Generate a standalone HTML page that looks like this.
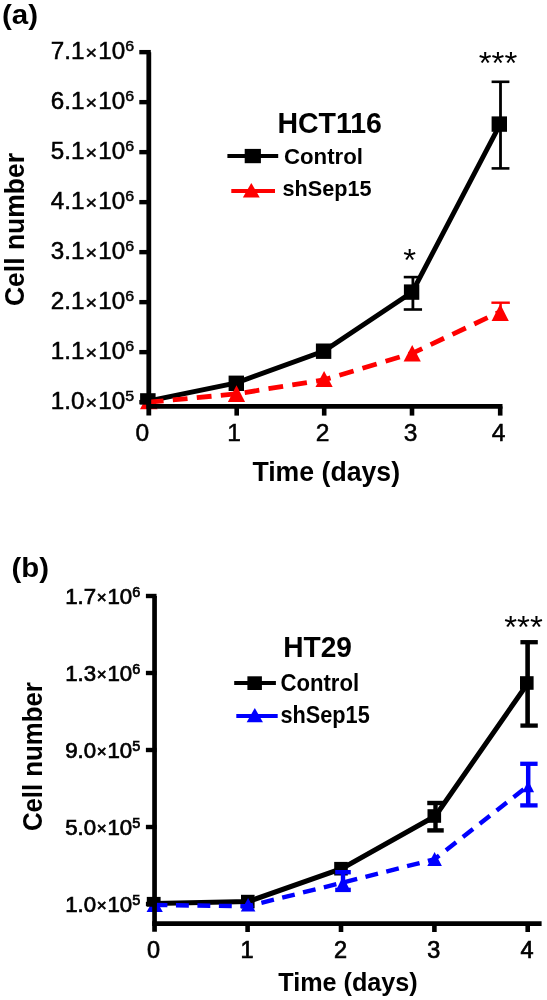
<!DOCTYPE html>
<html><head><meta charset="utf-8"><title>Cell number figure</title>
<style>
html,body{margin:0;padding:0;background:#fff;}
body{width:547px;height:1000px;overflow:hidden;}
svg{display:block;font-family:"Liberation Sans", Arial, Helvetica, sans-serif;}
</style></head>
<body>
<svg width="547" height="1000" viewBox="0 0 547 1000">
<rect width="547" height="1000" fill="#fff"/>
<text transform="translate(2.0,24.4) scale(1.055,1.0)" font-size="28" font-weight="bold" text-anchor="start" fill="#000" >(a)</text>
<text transform="translate(134.1,59.449999999999996) scale(1.045,1.0)" font-size="23.2" font-weight="normal" text-anchor="end" fill="#000" stroke="#000" stroke-width="0.5">7.1<tspan font-size="19" dx="1" dy="-0.6">×</tspan><tspan dx="1" dy="0.6">10</tspan><tspan font-size="15.3" dy="-8.2">6</tspan></text>
<text transform="translate(134.1,109.45) scale(1.045,1.0)" font-size="23.2" font-weight="normal" text-anchor="end" fill="#000" stroke="#000" stroke-width="0.5">6.1<tspan font-size="19" dx="1" dy="-0.6">×</tspan><tspan dx="1" dy="0.6">10</tspan><tspan font-size="15.3" dy="-8.2">6</tspan></text>
<text transform="translate(134.1,159.45000000000002) scale(1.045,1.0)" font-size="23.2" font-weight="normal" text-anchor="end" fill="#000" stroke="#000" stroke-width="0.5">5.1<tspan font-size="19" dx="1" dy="-0.6">×</tspan><tspan dx="1" dy="0.6">10</tspan><tspan font-size="15.3" dy="-8.2">6</tspan></text>
<text transform="translate(134.1,209.45000000000002) scale(1.045,1.0)" font-size="23.2" font-weight="normal" text-anchor="end" fill="#000" stroke="#000" stroke-width="0.5">4.1<tspan font-size="19" dx="1" dy="-0.6">×</tspan><tspan dx="1" dy="0.6">10</tspan><tspan font-size="15.3" dy="-8.2">6</tspan></text>
<text transform="translate(134.1,259.45) scale(1.045,1.0)" font-size="23.2" font-weight="normal" text-anchor="end" fill="#000" stroke="#000" stroke-width="0.5">3.1<tspan font-size="19" dx="1" dy="-0.6">×</tspan><tspan dx="1" dy="0.6">10</tspan><tspan font-size="15.3" dy="-8.2">6</tspan></text>
<text transform="translate(134.1,309.45) scale(1.045,1.0)" font-size="23.2" font-weight="normal" text-anchor="end" fill="#000" stroke="#000" stroke-width="0.5">2.1<tspan font-size="19" dx="1" dy="-0.6">×</tspan><tspan dx="1" dy="0.6">10</tspan><tspan font-size="15.3" dy="-8.2">6</tspan></text>
<text transform="translate(134.1,359.45) scale(1.045,1.0)" font-size="23.2" font-weight="normal" text-anchor="end" fill="#000" stroke="#000" stroke-width="0.5">1.1<tspan font-size="19" dx="1" dy="-0.6">×</tspan><tspan dx="1" dy="0.6">10</tspan><tspan font-size="15.3" dy="-8.2">6</tspan></text>
<text transform="translate(134.1,409.45) scale(1.045,1.0)" font-size="23.2" font-weight="normal" text-anchor="end" fill="#000" stroke="#000" stroke-width="0.5">1.0<tspan font-size="19" dx="1" dy="-0.6">×</tspan><tspan dx="1" dy="0.6">10</tspan><tspan font-size="15.3" dy="-8.2">5</tspan></text>
<text transform="translate(142.3,441) scale(1.06,1.0)" font-size="23.2" font-weight="normal" text-anchor="middle" fill="#000" stroke="#000" stroke-width="0.5">0</text>
<text transform="translate(234.2,441) scale(1.06,1.0)" font-size="23.2" font-weight="normal" text-anchor="middle" fill="#000" stroke="#000" stroke-width="0.5">1</text>
<text transform="translate(322.7,441) scale(1.06,1.0)" font-size="23.2" font-weight="normal" text-anchor="middle" fill="#000" stroke="#000" stroke-width="0.5">2</text>
<text transform="translate(410.5,441) scale(1.06,1.0)" font-size="23.2" font-weight="normal" text-anchor="middle" fill="#000" stroke="#000" stroke-width="0.5">3</text>
<text transform="translate(498.7,441) scale(1.06,1.0)" font-size="23.2" font-weight="normal" text-anchor="middle" fill="#000" stroke="#000" stroke-width="0.5">4</text>
<text transform="translate(252.4,480.5) scale(0.995,1.0)" font-size="26.8" font-weight="bold" text-anchor="start" fill="#000" >Time (days)</text>
<text transform="translate(23.9,306) rotate(-90) scale(0.936,1.0)" font-size="28.3" font-weight="bold" text-anchor="start" fill="#000" >Cell number</text>
<text transform="translate(277.4,132.9) scale(0.983,1.0)" font-size="29" font-weight="bold" text-anchor="start" fill="#000" >HCT116</text>
<line x1="227.4" y1="156" x2="278.2" y2="156" stroke="#000" stroke-width="3.8" />
<rect x="244.7" y="148.9" width="16.2" height="14.3" fill="#000"/>
<text transform="translate(283.9,164) scale(0.985,1.0)" font-size="22.6" font-weight="bold" text-anchor="start" fill="#000" >Control</text>
<line x1="231.3" y1="191" x2="275" y2="191" stroke="#fe0000" stroke-width="3.8" />
<polygon points="251.3,182.9 242.85000000000002,197.6 259.75,197.6" fill="#fe0000"/>
<text transform="translate(282.5,195.6) scale(0.95,1.0)" font-size="22.8" font-weight="bold" text-anchor="start" fill="#000" >shSep15</text>
<polygon points="148.8,392.8 140.0,409.3 157.60000000000002,409.3" fill="#fe0000"/>
<line x1="412.9" y1="277.1" x2="412.9" y2="309.5" stroke="#000" stroke-width="2.8" />
<line x1="403.75" y1="277.1" x2="422.04999999999995" y2="277.1" stroke="#000" stroke-width="2.6" />
<line x1="403.75" y1="309.5" x2="422.04999999999995" y2="309.5" stroke="#000" stroke-width="2.6" />
<line x1="500.5" y1="81.8" x2="500.5" y2="168.4" stroke="#000" stroke-width="2.8" />
<line x1="491.6" y1="81.8" x2="509.4" y2="81.8" stroke="#000" stroke-width="2.6" />
<line x1="491.6" y1="168.4" x2="509.4" y2="168.4" stroke="#000" stroke-width="2.6" />
<polyline points="149,400.8 236.5,382.8 324,351 412.3,292 500.2,124.1" fill="none" stroke="#000" stroke-width="4.9" stroke-linejoin="miter" />
<rect x="228.60000000000002" y="375.6" width="15.4" height="15.4" fill="#000"/>
<rect x="315.90000000000003" y="343.5" width="15.4" height="15.4" fill="#000"/>
<rect x="403.90000000000003" y="284.40000000000003" width="15.4" height="15.4" fill="#000"/>
<rect x="491.6" y="116.39999999999999" width="15.4" height="15.4" fill="#000"/>
<rect x="140.1" y="393.2" width="15.5" height="11.3" fill="#000"/>
<polyline points="148.8,402.2 236.4,393.9 324.1,379.8 412.2,353.3 500.5,311.6" fill="none" stroke="#fe0000" stroke-width="4.8" stroke-linejoin="miter" stroke-dasharray="14.8 9.3"/>
<line x1="500.6" y1="302.7" x2="500.6" y2="320" stroke="#fe0000" stroke-width="2.4" />
<line x1="491.4" y1="302.7" x2="509.8" y2="302.7" stroke="#fe0000" stroke-width="2.4" />
<polygon points="236.5,385.2 227.9,402.1 245.1,402.1" fill="#fe0000"/>
<polygon points="324.1,371 315.5,387 332.70000000000005,387" fill="#fe0000"/>
<polygon points="412.2,345.1 403.59999999999997,361.6 420.8,361.6" fill="#fe0000"/>
<polygon points="500.2,304 491.59999999999997,321 508.8,321" fill="#fe0000"/>
<line x1="148.8" y1="52.15" x2="148.8" y2="415.6" stroke="#000" stroke-width="4.8" />
<line x1="139.3" y1="52.15" x2="150.8" y2="52.15" stroke="#000" stroke-width="4.4" />
<line x1="139.3" y1="102.15" x2="150.8" y2="102.15" stroke="#000" stroke-width="4.4" />
<line x1="139.3" y1="152.15" x2="150.8" y2="152.15" stroke="#000" stroke-width="4.4" />
<line x1="139.3" y1="202.15" x2="150.8" y2="202.15" stroke="#000" stroke-width="4.4" />
<line x1="139.3" y1="252.15" x2="150.8" y2="252.15" stroke="#000" stroke-width="4.4" />
<line x1="139.3" y1="302.15" x2="150.8" y2="302.15" stroke="#000" stroke-width="4.4" />
<line x1="139.3" y1="352.15" x2="150.8" y2="352.15" stroke="#000" stroke-width="4.4" />
<line x1="139.3" y1="402.15" x2="150.8" y2="402.15" stroke="#000" stroke-width="4.4" />
<line x1="146.4" y1="406.4" x2="502.5" y2="406.4" stroke="#000" stroke-width="4.8" />
<line x1="236.7" y1="406.4" x2="236.7" y2="415.6" stroke="#000" stroke-width="4.6" />
<line x1="324.2" y1="406.4" x2="324.2" y2="415.6" stroke="#000" stroke-width="4.6" />
<line x1="412" y1="406.4" x2="412" y2="415.6" stroke="#000" stroke-width="4.6" />
<line x1="500.2" y1="406.4" x2="500.2" y2="415.6" stroke="#000" stroke-width="4.6" />
<text transform="translate(409.6,271) scale(1.03,1.0)" font-size="32" font-weight="normal" text-anchor="middle" fill="#000" >*</text>
<text transform="translate(498,73.6) scale(1.03,1.0)" font-size="32" font-weight="normal" text-anchor="middle" fill="#000" >***</text>
<text transform="translate(11.5,577.4) scale(1.05,1.0)" font-size="28" font-weight="bold" text-anchor="start" fill="#000" >(b)</text>
<text transform="translate(140.2,603.9) scale(1.03,1.0)" font-size="21.6" font-weight="normal" text-anchor="end" fill="#000" stroke="#000" stroke-width="0.7">1.7<tspan font-size="16.5" dx="0.7" dy="-0.9">×</tspan><tspan dx="0.7" dy="0.9">10</tspan><tspan font-size="14" dy="-7.4">6</tspan></text>
<text transform="translate(140.2,680.9) scale(1.03,1.0)" font-size="21.6" font-weight="normal" text-anchor="end" fill="#000" stroke="#000" stroke-width="0.7">1.3<tspan font-size="16.5" dx="0.7" dy="-0.9">×</tspan><tspan dx="0.7" dy="0.9">10</tspan><tspan font-size="14" dy="-7.4">6</tspan></text>
<text transform="translate(140.2,757.9) scale(1.03,1.0)" font-size="21.6" font-weight="normal" text-anchor="end" fill="#000" stroke="#000" stroke-width="0.7">9.0<tspan font-size="16.5" dx="0.7" dy="-0.9">×</tspan><tspan dx="0.7" dy="0.9">10</tspan><tspan font-size="14" dy="-7.4">5</tspan></text>
<text transform="translate(140.2,834.9) scale(1.03,1.0)" font-size="21.6" font-weight="normal" text-anchor="end" fill="#000" stroke="#000" stroke-width="0.7">5.0<tspan font-size="16.5" dx="0.7" dy="-0.9">×</tspan><tspan dx="0.7" dy="0.9">10</tspan><tspan font-size="14" dy="-7.4">5</tspan></text>
<text transform="translate(140.2,911.9) scale(1.03,1.0)" font-size="21.6" font-weight="normal" text-anchor="end" fill="#000" stroke="#000" stroke-width="0.7">1.0<tspan font-size="16.5" dx="0.7" dy="-0.9">×</tspan><tspan dx="0.7" dy="0.9">10</tspan><tspan font-size="14" dy="-7.4">5</tspan></text>
<text transform="translate(153.6,957.8) scale(1.02,1.0)" font-size="23" font-weight="normal" text-anchor="middle" fill="#000" stroke="#000" stroke-width="0.7">0</text>
<text transform="translate(247.0,957.8) scale(1.02,1.0)" font-size="23" font-weight="normal" text-anchor="middle" fill="#000" stroke="#000" stroke-width="0.7">1</text>
<text transform="translate(340.4,957.8) scale(1.02,1.0)" font-size="23" font-weight="normal" text-anchor="middle" fill="#000" stroke="#000" stroke-width="0.7">2</text>
<text transform="translate(433.79999999999995,957.8) scale(1.02,1.0)" font-size="23" font-weight="normal" text-anchor="middle" fill="#000" stroke="#000" stroke-width="0.7">3</text>
<text transform="translate(527.1,957.8) scale(1.02,1.0)" font-size="23" font-weight="normal" text-anchor="middle" fill="#000" stroke="#000" stroke-width="0.7">4</text>
<text transform="translate(278.2,990.6)" font-size="25.2" font-weight="bold" text-anchor="start" fill="#000" >Time (days)</text>
<text transform="translate(42.0,831.1) rotate(-90) scale(0.927,1.0)" font-size="27.8" font-weight="bold" text-anchor="start" fill="#000" >Cell number</text>
<text transform="translate(283.2,657) scale(0.97,1.0)" font-size="29" font-weight="bold" text-anchor="start" fill="#000" >HT29</text>
<line x1="234.2" y1="683" x2="275.9" y2="683" stroke="#000" stroke-width="3.9" />
<rect x="247.4" y="676.3" width="14.5" height="13.7" fill="#000"/>
<text transform="translate(280.4,690.9) scale(0.943,1.0)" font-size="23.5" font-weight="bold" text-anchor="start" fill="#000" >Control</text>
<line x1="236.3" y1="715.9" x2="277.7" y2="715.9" stroke="#0000fe" stroke-width="4" />
<polygon points="254.8,707.9 246.65,722.3 262.95,722.3" fill="#0000fe"/>
<text transform="translate(280.4,723.1) scale(0.925,1.0)" font-size="23.5" font-weight="bold" text-anchor="start" fill="#000" >shSep15</text>
<polygon points="154.7,897.5 146.6,911.9 162.79999999999998,911.9" fill="#0000fe"/>
<line x1="435.5" y1="803" x2="435.5" y2="830.4" stroke="#000" stroke-width="4.4" />
<line x1="427.25" y1="803" x2="443.75" y2="803" stroke="#000" stroke-width="4.4" />
<line x1="427.25" y1="830.4" x2="443.75" y2="830.4" stroke="#000" stroke-width="4.4" />
<line x1="527.6" y1="642.2" x2="527.6" y2="725.6" stroke="#000" stroke-width="4.6" />
<line x1="520.4" y1="642.2" x2="537.8" y2="642.2" stroke="#000" stroke-width="4.3" />
<line x1="520.4" y1="725.6" x2="537.8" y2="725.6" stroke="#000" stroke-width="4.3" />
<polyline points="154.5,903.6 248,901.6 341.6,868.7 435.4,816 528,683" fill="none" stroke="#000" stroke-width="5" stroke-linejoin="miter" />
<rect x="241.0" y="894.8000000000001" width="13.6" height="13.6" fill="#000"/>
<rect x="334.2" y="861.9000000000001" width="13.6" height="13.6" fill="#000"/>
<rect x="427.5" y="809.2" width="13.6" height="13.6" fill="#000"/>
<rect x="520.0" y="676.2" width="13.6" height="13.6" fill="#000"/>
<rect x="146.8" y="896.9" width="13.8" height="9.8" fill="#000"/>
<polyline points="154.5,905 248,906.2 343,882.5 434.4,859.3 528.2,785.8" fill="none" stroke="#0000fe" stroke-width="4.4" stroke-linejoin="miter" stroke-dasharray="12.9 8.56"/>
<line x1="343" y1="872.2" x2="343" y2="889.9" stroke="#0000fe" stroke-width="4.4" />
<line x1="335.2" y1="872.2" x2="350.8" y2="872.2" stroke="#0000fe" stroke-width="4.4" />
<line x1="335.2" y1="889.9" x2="350.8" y2="889.9" stroke="#0000fe" stroke-width="4.4" />
<line x1="528.2" y1="763.8" x2="528.2" y2="805.4" stroke="#0000fe" stroke-width="4.5" />
<line x1="520.2" y1="763.8" x2="537.6" y2="763.8" stroke="#0000fe" stroke-width="4.3" />
<line x1="520.2" y1="805.4" x2="537.6" y2="805.4" stroke="#0000fe" stroke-width="4.3" />
<polygon points="248.1,898 240.79999999999998,911.6 255.4,911.6" fill="#0000fe"/>
<polygon points="343,876 335.7,891 350.3,891" fill="#0000fe"/>
<polygon points="434.6,851.9 427.3,866.1 441.90000000000003,866.1" fill="#0000fe"/>
<polygon points="528.2,780.7 522.3000000000001,792.3 534.1,792.3" fill="#0000fe"/>
<line x1="154.55" y1="596" x2="154.55" y2="931.8" stroke="#000" stroke-width="4.7" />
<line x1="145.9" y1="596" x2="156.55" y2="596" stroke="#000" stroke-width="4.4" />
<line x1="145.9" y1="673" x2="156.55" y2="673" stroke="#000" stroke-width="4.4" />
<line x1="145.9" y1="750" x2="156.55" y2="750" stroke="#000" stroke-width="4.4" />
<line x1="145.9" y1="827" x2="156.55" y2="827" stroke="#000" stroke-width="4.4" />
<line x1="145.9" y1="904" x2="156.55" y2="904" stroke="#000" stroke-width="4.4" />
<line x1="152.20000000000002" y1="923.6" x2="541.6" y2="923.6" stroke="#000" stroke-width="4.6" />
<line x1="247.6" y1="923" x2="247.6" y2="932" stroke="#000" stroke-width="4.6" />
<line x1="341" y1="923" x2="341" y2="932" stroke="#000" stroke-width="4.6" />
<line x1="434.4" y1="923" x2="434.4" y2="932" stroke="#000" stroke-width="4.6" />
<line x1="527.7" y1="923" x2="527.7" y2="932" stroke="#000" stroke-width="4.6" />
<text transform="translate(523.5,637.5) scale(1.08,1.0)" font-size="30.5" font-weight="normal" text-anchor="middle" fill="#000" >***</text>
</svg>
</body></html>
